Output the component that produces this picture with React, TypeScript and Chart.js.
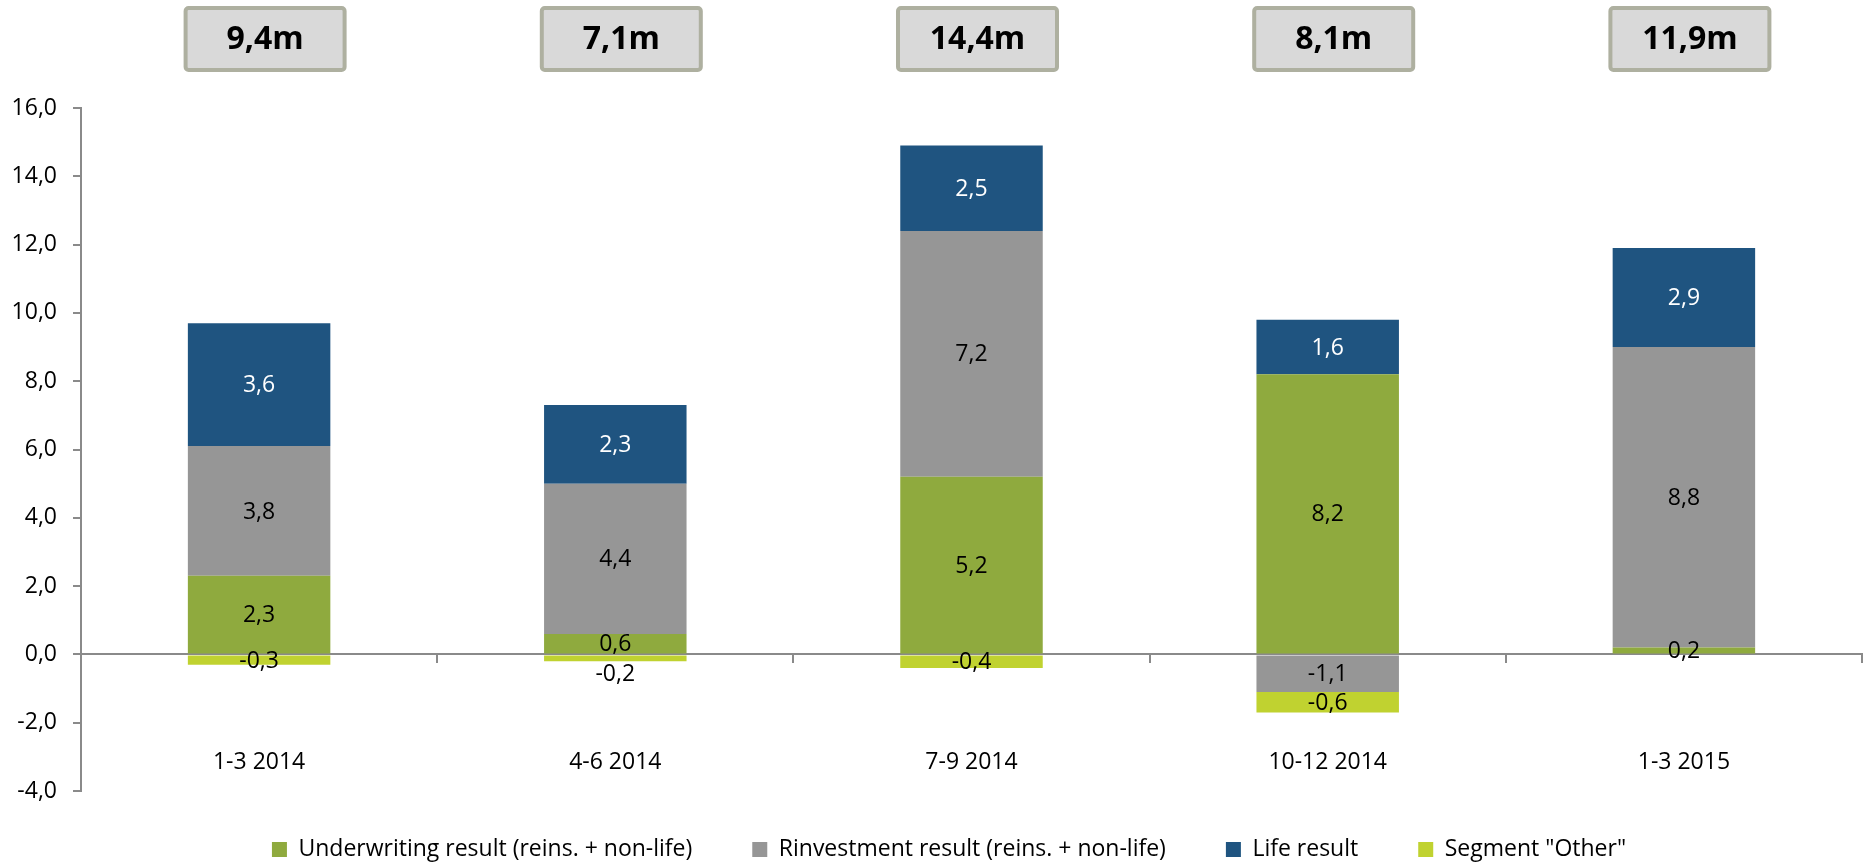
import React, { useEffect, useRef } from 'react';
import { Chart, registerables } from 'chart.js';

Chart.register(...registerables);

// ---- data ----
const categories = ['1-3 2014', '4-6 2014', '7-9 2014', '10-12 2014', '1-3 2015'];
const underwriting = [2.3, 0.6, 5.2, 8.2, 0.2];
const reinvestment = [3.8, 4.4, 7.2, -1.1, 8.8];
const lifeResult = [3.6, 2.3, 2.5, 1.6, 2.9];
const otherSegment = [-0.3, -0.2, -0.4, -0.6, null];
const totalLabels = ['9,4m', '7,1m', '14,4m', '8,1m', '11,9m'];
const seriesNames = [
  'Underwriting result (reins. + non-life)',
  'Rinvestment result (reins. + non-life)',
  'Life result',
  'Segment "Other"',
];
const yMin = -4;
const yMax = 16;
const yStep = 2;

// ---- styles ----
const seriesColors = ['#8FAA3E', '#969696', '#1F5480', '#C0D230'];
const labelColors = ['#000000', '#000000', '#FFFFFF', '#000000'];
const FONT = '"Open Sans"';
const FONT_SIZE = 23;
const AXIS_GREY = '#8a8a8a';

const fmt = (v: number) => v.toFixed(1).replace('.', ',');

const segmentLabels = {
  id: 'segmentLabels',
  afterDatasetsDraw(chart: any) {
    const ctx = chart.ctx;
    ctx.save();
    ctx.font = `${FONT_SIZE}px ${FONT}`;
    ctx.textAlign = 'center';
    ctx.textBaseline = 'middle';
    const placed: Record<number, number[]> = {};
    chart.data.datasets.forEach((ds: any, di: number) => {
      const meta = chart.getDatasetMeta(di);
      meta.data.forEach((el: any, i: number) => {
        const v = ds.data[i];
        if (v === null || v === undefined || v === 0) return;
        const p = el.getProps(['x', 'y', 'base'], true);
        let cy = (p.y + p.base) / 2 + 1;
        const list = placed[i] || (placed[i] = []);
        for (const other of list) {
          if (Math.abs(other - cy) < 24) {
            cy = v < 0 ? other + 30 : other - 30;
          }
        }
        list.push(cy);
        ctx.fillStyle = labelColors[di];
        ctx.fillText(fmt(v), p.x, cy);
      });
    });
    ctx.restore();
  },
};

const totalBoxes = {
  id: 'totalBoxes',
  afterDraw(chart: any) {
    const ctx = chart.ctx;
    const xs = chart.scales.x;
    ctx.save();
    totalLabels.forEach((t, i) => {
      const cx = xs.getPixelForValue(i) + 6;
      const w = 159;
      const h = 62;
      const top = 8;
      ctx.beginPath();
      ctx.roundRect(cx - w / 2, top, w, h, 3);
      ctx.fillStyle = '#d9d9d9';
      ctx.fill();
      ctx.lineWidth = 4;
      ctx.strokeStyle = '#aeb0a0';
      ctx.stroke();
      ctx.fillStyle = '#000000';
      ctx.font = `bold 32px ${FONT}`;
      ctx.textAlign = 'center';
      ctx.textBaseline = 'middle';
      ctx.fillText(t, cx, top + h / 2 + 1);
    });
    ctx.restore();
  },
};

const legendPlace = {
  id: 'legendPlace',
  afterLayout(chart: any) {
    const lg = chart.legend;
    if (!lg) return;
    const center = 949;
    const half = 900;
    lg.left = center - half;
    lg.right = center + half;
    lg.width = half * 2;
    lg.top = 778;
    lg.bottom = 864;
    lg.height = 86;
  },
};

export default function App() {
  const ref = useRef<HTMLCanvasElement | null>(null);

  useEffect(() => {
    if (!ref.current) return;
    const data = [underwriting, reinvestment, lifeResult, otherSegment];
    const chart = new Chart(ref.current, {
      type: 'bar',
      data: {
        labels: categories,
        datasets: data.map((d, i) => ({
          label: seriesNames[i],
          data: d,
          backgroundColor: seriesColors[i],
          borderWidth: 0,
          barPercentage: 0.4,
          categoryPercentage: 1,
        })),
      },
      options: {
        responsive: false,
        animation: false,
        layout: { padding: { top: 108, right: 6, bottom: 0, left: 0 } },
        scales: {
          x: {
            stacked: true,
            position: { y: 0 },
            offset: true,
            grid: {
              display: true,
              drawOnChartArea: false,
              drawTicks: true,
              tickLength: 8,
              color: AXIS_GREY,
              lineWidth: 2,
              offset: true,
            },
            border: { display: true, color: AXIS_GREY, width: 2 },
            ticks: {
              padding: 86,
              color: '#000000',
              font: { family: FONT, size: FONT_SIZE },
              maxRotation: 0,
              autoSkip: false,
            },
          },
          y: {
            stacked: true,
            min: yMin,
            max: yMax,
            afterFit(scale: any) {
              scale.width = 81;
            },
            grid: {
              display: true,
              drawOnChartArea: false,
              drawTicks: true,
              tickLength: 8,
              color: AXIS_GREY,
              lineWidth: 2,
            },
            border: { display: true, color: AXIS_GREY, width: 2 },
            ticks: {
              stepSize: yStep,
              padding: 16,
              color: '#000000',
              font: { family: FONT, size: FONT_SIZE },
              callback: (v: any) => fmt(Number(v)),
            },
          },
        },
        plugins: {
          legend: {
            display: true,
            position: 'bottom',
            maxHeight: 73,
            labels: {
              boxWidth: 15,
              boxHeight: 15,
              padding: 60,
              color: '#000000',
              font: { family: FONT, size: FONT_SIZE },
            },
          },
          tooltip: { enabled: false },
        },
      },
      plugins: [segmentLabels, totalBoxes, legendPlace],
    } as any);
    return () => chart.destroy();
  }, []);

  return (
    <div style={{ position: 'absolute', left: 0, top: 0, width: 1868, height: 864, background: '#ffffff' }}>
      <canvas ref={ref} width={1868} height={864} />
    </div>
  );
}
